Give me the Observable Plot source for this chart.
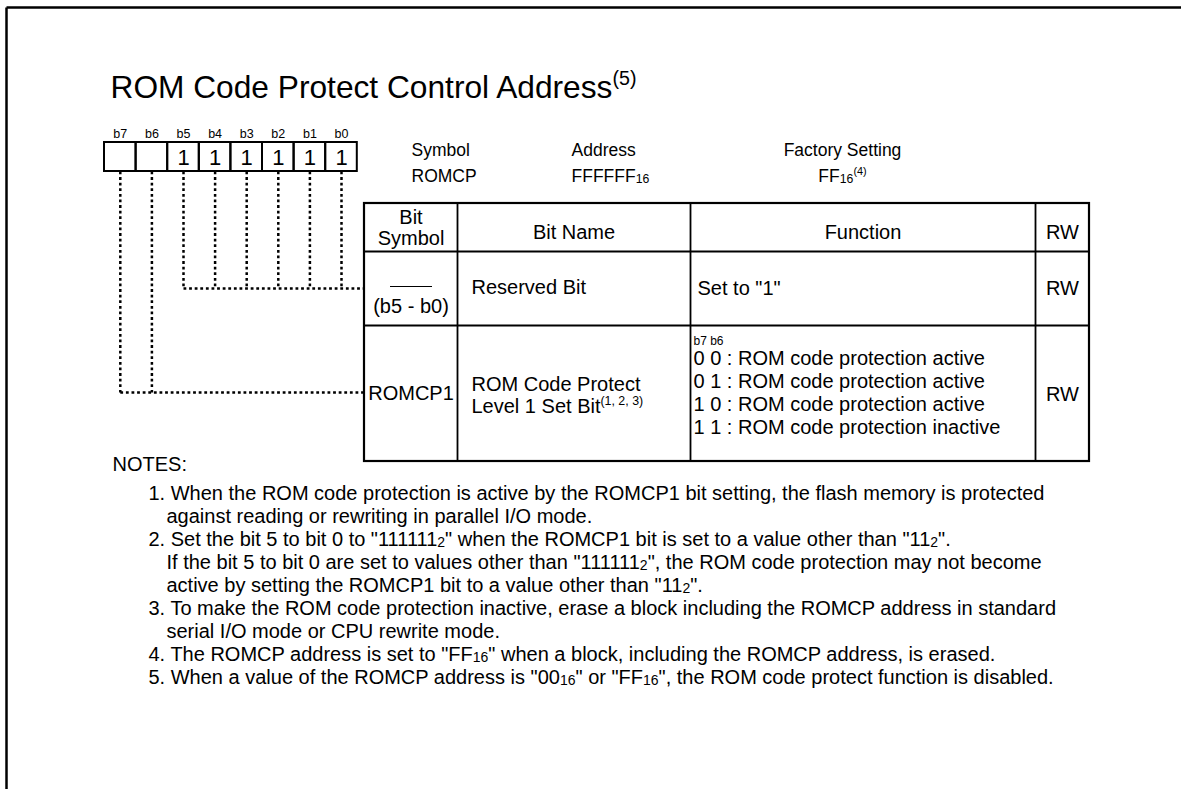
<!DOCTYPE html>
<html><head><meta charset="utf-8">
<script src="https://cdn.jsdelivr.net/npm/d3@7"></script>
<script src="https://cdn.jsdelivr.net/npm/@observablehq/plot@0.6"></script>
<style>
html,body{margin:0;padding:0;background:#fff;}
#chart svg{display:block;}
</style>
</head><body><div id="chart"></div>
<script>
// ---------- content ----------
const title = "ROM Code Protect Control Address^{(5)}";
const bitLabels = ["b7","b6","b5","b4","b3","b2","b1","b0"];
const bitValues = ["","","1","1","1","1","1","1"];
const infoHeaders = ["Symbol","Address","Factory Setting"];
const infoValues = ["ROMCP","FFFFFF_{16}","FF_{16}^{(4)}"];
const tableHeaders = [["Bit","Symbol"],["Bit Name"],["Function"],["RW"]];
const reservedBits = [2,3,4,5,6,7];   // indexes of b5..b0
const romcp1Bits = [0,1];             // indexes of b7, b6
const row1 = {symbol:"(b5 - b0)", name:["Reserved Bit"], func:["Set to \"1\""], rw:"RW"};
const row2 = {symbol:"ROMCP1", name:["ROM Code Protect","Level 1 Set Bit^{(1, 2, 3)}"], funcHead:"b7 b6",
  func:["0 0 : ROM code protection active","0 1 : ROM code protection active","1 0 : ROM code protection active","1 1 : ROM code protection inactive"], rw:"RW"};
const notesTitle = "NOTES:";
const notes = [
  ["1. When the ROM code protection is active by the ROMCP1 bit setting, the flash memory is protected","against reading or rewriting in parallel I/O mode."],
  ["2. Set the bit 5 to bit 0 to \"111111_{2}\" when the ROMCP1 bit is set to a value other than \"11_{2}\".","If the bit 5 to bit 0 are set to values other than \"111111_{2}\", the ROM code protection may not become","active by setting the ROMCP1 bit to a value other than \"11_{2}\"."],
  ["3. To make the ROM code protection inactive, erase a block including the ROMCP address in standard","serial I/O mode or CPU rewrite mode."],
  ["4. The ROMCP address is set to \"FF_{16}\" when a block, including the ROMCP address, is erased."],
  ["5. When a value of the ROMCP address is \"00_{16}\" or \"FF_{16}\", the ROM code protect function is disabled."]
];

// ---------- layout ----------
const W = 1181, H = 789;
const FONT = "'Liberation Sans', Arial, Helvetica, sans-serif";
const L = {
  border:{x:6, y:7},
  title:{x:110, y:97, size:31.7},
  box:{x0:104, cw:31.6, y0:142, y1:171, labelY:137, labelSize:12.5, valueY:164, valueSize:22},
  info:{xs:[411,571,842], anchors:["start","start","middle"], y0:155, y1:181, size:17.5},
  table:{xs:[364,457,690,1035,1089], ys:[203,251,325,461], size:20},
  dots:{y1:288, y2:392},
  notes:{titleX:112, numX:148, textX:166, y0:470, y1:499, step:23, size:20}
};
const cx = i => L.box.x0 + (i + 0.5) * L.box.cw;
const T = L.table;
const colC = k => (T.xs[k] + T.xs[k+1]) / 2;

// ---------- derived datasets ----------
const boxes = bitLabels.map((b, i) => ({b, v: bitValues[i], x1: L.box.x0 + i*L.box.cw, x2: L.box.x0 + (i+1)*L.box.cw, cx: cx(i)}));
const dotted = [
  ...reservedBits.map(i => ({x1: cx(i), y1: L.box.y1, x2: cx(i), y2: L.dots.y1})),
  {x1: cx(reservedBits[0]), y1: L.dots.y1, x2: T.xs[0], y2: L.dots.y1},
  ...romcp1Bits.map(i => ({x1: cx(i), y1: L.box.y1, x2: cx(i), y2: L.dots.y2})),
  {x1: cx(romcp1Bits[0]), y1: L.dots.y2, x2: T.xs[0], y2: L.dots.y2}
];
const gridLines = [
  ...T.xs.slice(1, -1).map(x => ({x1: x, y1: T.ys[0], x2: x, y2: T.ys[3]})),
  ...T.ys.slice(1, -1).map(y => ({x1: T.xs[0], y1: y, x2: T.xs[4], y2: y}))
];
const info = [
  ...infoHeaders.map((t, i) => ({t, x: L.info.xs[i], y: L.info.y0, a: L.info.anchors[i]})),
  ...infoValues.map((t, i) => ({t, x: L.info.xs[i], y: L.info.y1, a: L.info.anchors[i]}))
];
const headerText = [
  {t: tableHeaders[0][0], x: colC(0), y: 223},
  {t: tableHeaders[0][1], x: colC(0), y: 244},
  {t: tableHeaders[1][0], x: colC(1), y: 238},
  {t: tableHeaders[2][0], x: colC(2), y: 238},
  {t: tableHeaders[3][0], x: colC(3), y: 238}
];
const cellMid = [
  {t: row1.symbol, x: colC(0), y: 312},
  {t: row1.rw, x: colC(3), y: 294},
  {t: row2.symbol, x: colC(0), y: 399},
  {t: row2.rw, x: colC(3), y: 400}
];
const cellLeft = [
  {t: row1.name[0], x: T.xs[1] + 14, y: 293},
  {t: row1.func[0], x: T.xs[2] + 7, y: 294},
  {t: row2.name[0], x: T.xs[1] + 14, y: 390},
  {t: row2.name[1], x: T.xs[1] + 14, y: 412},
  ...row2.func.map((t, k) => ({t, x: T.xs[2] + 3, y: 364 + k*23}))
];
const noteLines = [];
{
  let k = 0;
  for (const lines of notes) {
    lines.forEach((t, j) => {
      noteLines.push({t, x: j === 0 ? L.notes.numX : L.notes.textX, y: L.notes.y1 + k * L.notes.step});
      k++;
    });
  }
}

const txt = (data, o) => Plot.text(data, {x: "x", y: "y", text: "t", fill: "#000", lineAnchor: "bottom", fontFamily: FONT, ...o});

const plot = Plot.plot({
  width: W, height: H, margin: 0,
  x: {type: "linear", domain: [0, W], range: [0, W], axis: null},
  y: {type: "linear", domain: [0, H], range: [0, H], axis: null},
  style: {fontFamily: FONT, background: "#fff", color: "#000"},
  marks: [
    // page frame
    Plot.link([{x1: L.border.x, y1: L.border.y, x2: W, y2: L.border.y}, {x1: L.border.x, y1: L.border.y, x2: L.border.x, y2: H}],
      {x1: "x1", y1: "y1", x2: "x2", y2: "y2", stroke: "#000", strokeWidth: 2.5}),
    // title
    txt([{t: title, x: L.title.x, y: L.title.y}], {fontSize: L.title.size, textAnchor: "start"}),
    // bit boxes
    Plot.rect(boxes, {x1: "x1", x2: "x2", y1: () => L.box.y0, y2: () => L.box.y1, fill: "none", stroke: "#000", strokeWidth: 2}),
    txt(boxes.map(d => ({t: d.b, x: d.cx, y: L.box.labelY})), {fontSize: L.box.labelSize, textAnchor: "middle"}),
    txt(boxes.map(d => ({t: d.v, x: d.cx, y: L.box.valueY})), {fontSize: L.box.valueSize, textAnchor: "middle"}),
    // dotted connectors
    Plot.link(dotted, {x1: "x1", y1: "y1", x2: "x2", y2: "y2", stroke: "#000", strokeWidth: 2.5, strokeDasharray: "2.8,2.8"}),
    // symbol / address / factory setting
    ...info.map(d => txt([d], {fontSize: L.info.size, textAnchor: d.a})),
    // table
    Plot.rect([T], {x1: () => T.xs[0], x2: () => T.xs[4], y1: () => T.ys[0], y2: () => T.ys[3], fill: "none", stroke: "#000", strokeWidth: 2.2}),
    Plot.link(gridLines, {x1: "x1", y1: "y1", x2: "x2", y2: "y2", stroke: "#000", strokeWidth: 1.8}),
    Plot.link([{x1: colC(0) - 21, x2: colC(0) + 21, y: 286}], {x1: "x1", x2: "x2", y1: "y", y2: "y", stroke: "#000", strokeWidth: 1.2}),
    txt(headerText, {fontSize: T.size, textAnchor: "middle"}),
    txt(cellMid, {fontSize: T.size, textAnchor: "middle"}),
    txt(cellLeft, {fontSize: T.size, textAnchor: "start"}),
    txt([{t: row2.funcHead, x: T.xs[2] + 3, y: 344}], {fontSize: 12, textAnchor: "start"}),
    // notes
    txt([{t: notesTitle, x: L.notes.titleX, y: L.notes.y0}], {fontSize: L.notes.size, textAnchor: "start"}),
    txt(noteLines, {fontSize: L.notes.size, textAnchor: "start"})
  ]
});
document.getElementById("chart").appendChild(plot);

// rich text: _{sub} and ^{sup}
plot.querySelectorAll("text").forEach(t => {
  const s = t.textContent;
  if (!/[_^]\{/.test(s)) return;
  const fs = parseFloat(getComputedStyle(t).fontSize) || 20;
  const parts = s.split(/([_^]\{[^}]*\})/).filter(p => p !== "");
  t.textContent = "";
  let shift = 0;
  for (const p of parts) {
    const ts = document.createElementNS("http://www.w3.org/2000/svg", "tspan");
    let target = 0, str = p, size = null;
    if (p.startsWith("_{")) { str = p.slice(2, -1); target = 0.06 * fs; size = 0.7 * fs; }
    else if (p.startsWith("^{")) { str = p.slice(2, -1); target = -0.38 * fs; size = 0.62 * fs; }
    if (size) ts.setAttribute("font-size", size);
    const dy = target - shift;
    if (dy) ts.setAttribute("dy", dy);
    shift = target;
    ts.textContent = str;
    t.appendChild(ts);
  }
});
</script>
</body></html>
